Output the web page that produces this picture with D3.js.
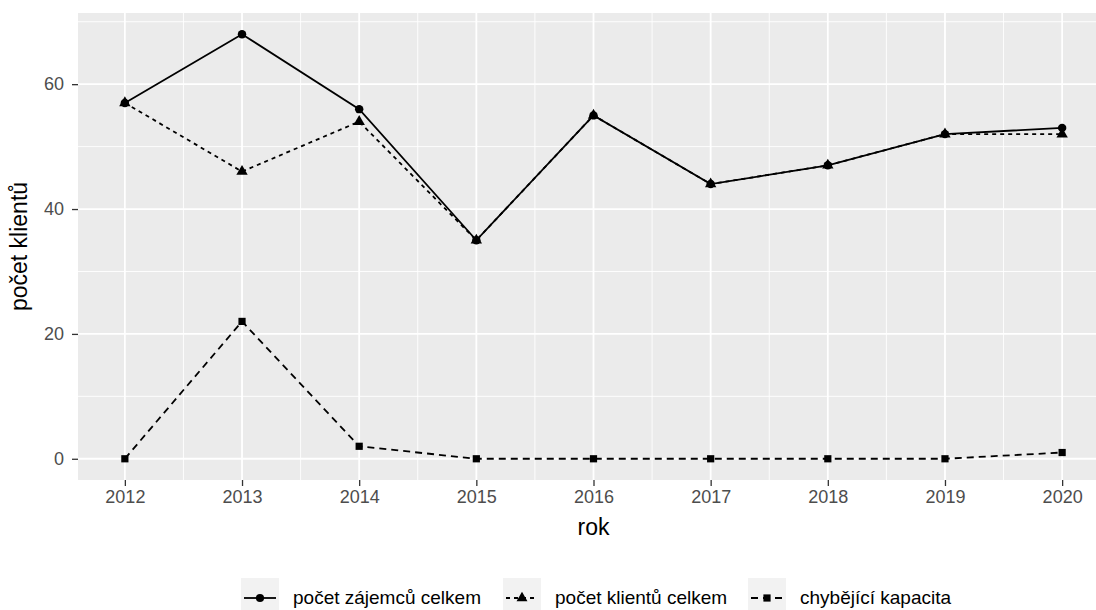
<!DOCTYPE html>
<html>
<head>
<meta charset="utf-8">
<script src="https://cdn.jsdelivr.net/npm/d3@7"></script>
<style>
  body { margin: 0; background: #fff; }
  text { font-family: "Liberation Sans", Arial, sans-serif; }
</style>
</head>
<body>
<div id="chart"></div>
<script>
// data ----------------------------------------------------------------
const years = [2012, 2013, 2014, 2015, 2016, 2017, 2018, 2019, 2020];
const zajemcu = [57, 68, 56, 35, 55, 44, 47, 52, 53];
const klientu = [57, 46, 54, 35, 55, 44, 47, 52, 52];
const chybejici = [0, 22, 2, 0, 0, 0, 0, 0, 1];
const seriesNames = ['počet zájemců celkem', 'počet klientů celkem', 'chybějící kapacita'];
const yTicks = [0, 20, 40, 60];

const series = [
  {name: seriesNames[0], values: zajemcu, dash: null, shape: d3.symbolCircle},
  {name: seriesNames[1], values: klientu, dash: '4,4', shape: d3.symbolTriangle},
  {name: seriesNames[2], values: chybejici, dash: '7,5', shape: d3.symbolSquare}
];

// layout --------------------------------------------------------------
const width = 1096, height = 610;
const panel = {left: 78, top: 13, right: 1096, bottom: 480};

const svg = d3.select('#chart').append('svg')
  .attr('width', width)
  .attr('height', height);

const x = d3.scaleLinear()
  .domain([2012 - 0.4, 2020 + 0.4])
  .range([panel.left, 1109]);
const y = d3.scaleLinear()
  .domain([-3.4, 71.4])
  .range([panel.bottom, panel.top]);

// panel ---------------------------------------------------------------
svg.append('rect')
  .attr('x', panel.left).attr('y', panel.top)
  .attr('width', panel.right - panel.left)
  .attr('height', panel.bottom - panel.top)
  .attr('fill', '#ebebeb');

const grid = svg.append('g');
// minor grid
d3.range(10, 71, 20).forEach(v => {
  grid.append('line')
    .attr('x1', panel.left).attr('x2', panel.right)
    .attr('y1', y(v)).attr('y2', y(v))
    .attr('stroke', '#fff').attr('stroke-width', 0.9);
});
d3.range(2012.5, 2020, 1).forEach(v => {
  grid.append('line')
    .attr('x1', x(v)).attr('x2', x(v))
    .attr('y1', panel.top).attr('y2', panel.bottom)
    .attr('stroke', '#fff').attr('stroke-width', 0.9);
});
// major grid
yTicks.forEach(v => {
  grid.append('line')
    .attr('x1', panel.left).attr('x2', panel.right)
    .attr('y1', y(v)).attr('y2', y(v))
    .attr('stroke', '#fff').attr('stroke-width', 1.8);
});
years.forEach(v => {
  grid.append('line')
    .attr('x1', x(v)).attr('x2', x(v))
    .attr('y1', panel.top).attr('y2', panel.bottom)
    .attr('stroke', '#fff').attr('stroke-width', 1.8);
});

// axes ----------------------------------------------------------------
const xAxis = svg.append('g')
  .attr('transform', 'translate(0,' + panel.bottom + ')')
  .call(d3.axisBottom(x).tickValues(years).tickFormat(d3.format('d')).tickSize(6).tickPadding(4));
const yAxis = svg.append('g')
  .attr('transform', 'translate(' + panel.left + ',0)')
  .call(d3.axisLeft(y).tickValues(yTicks).tickSize(6).tickPadding(8));
[xAxis, yAxis].forEach(a => {
  a.select('.domain').remove();
  a.selectAll('.tick line').attr('stroke', '#333').attr('stroke-width', 1.3);
  a.selectAll('.tick text')
    .attr('fill', '#4d4d4d')
    .attr('font-size', '18px')
    .style('font-family', '"Liberation Sans", Arial, sans-serif');
});

svg.append('text')
  .attr('x', (panel.left + 1109) / 2)
  .attr('y', 535)
  .attr('text-anchor', 'middle')
  .attr('font-size', '23px')
  .attr('fill', '#000')
  .text('rok');
svg.append('text')
  .attr('transform', 'translate(27,' + ((panel.top + panel.bottom) / 2) + ') rotate(-90)')
  .attr('text-anchor', 'middle')
  .attr('font-size', '23px')
  .attr('fill', '#000')
  .text('počet klientů');

// lines + points ------------------------------------------------------
const line = d3.line()
  .x((d, i) => x(years[i]))
  .y(d => y(d));

series.forEach(s => {
  svg.append('path')
    .datum(s.values)
    .attr('d', line)
    .attr('fill', 'none')
    .attr('stroke', '#000')
    .attr('stroke-width', 1.8)
    .attr('stroke-dasharray', s.dash);
});
series.forEach(s => {
  svg.append('g').selectAll('path')
    .data(s.values)
    .enter().append('path')
    .attr('transform', (d, i) => 'translate(' + x(years[i]) + ',' + y(d) + ')')
    .attr('d', d3.symbol().type(s.shape).size(s.shape === d3.symbolSquare ? 52 : 56))
    .attr('fill', '#000');
});

// legend --------------------------------------------------------------
const legendY = 598;
const keyW = 38;
const legendX = [241, 503, 748];
series.forEach((s, i) => {
  const g = svg.append('g').attr('transform', 'translate(' + legendX[i] + ',' + legendY + ')');
  g.append('rect')
    .attr('x', 0).attr('y', -20)
    .attr('width', keyW).attr('height', 40)
    .attr('fill', '#f2f2f2');
  g.append('line')
    .attr('x1', 3).attr('x2', keyW - 3)
    .attr('y1', 0).attr('y2', 0)
    .attr('stroke', '#000')
    .attr('stroke-width', 1.8)
    .attr('stroke-dasharray', s.dash);
  g.append('path')
    .attr('transform', 'translate(' + keyW / 2 + ',0)')
    .attr('d', d3.symbol().type(s.shape).size(52))
    .attr('fill', '#000');
  g.append('text')
    .attr('x', keyW + 14)
    .attr('y', 6)
    .attr('font-size', '19px')
    .attr('fill', '#000')
    .text(s.name);
});
</script>
</body>
</html>
